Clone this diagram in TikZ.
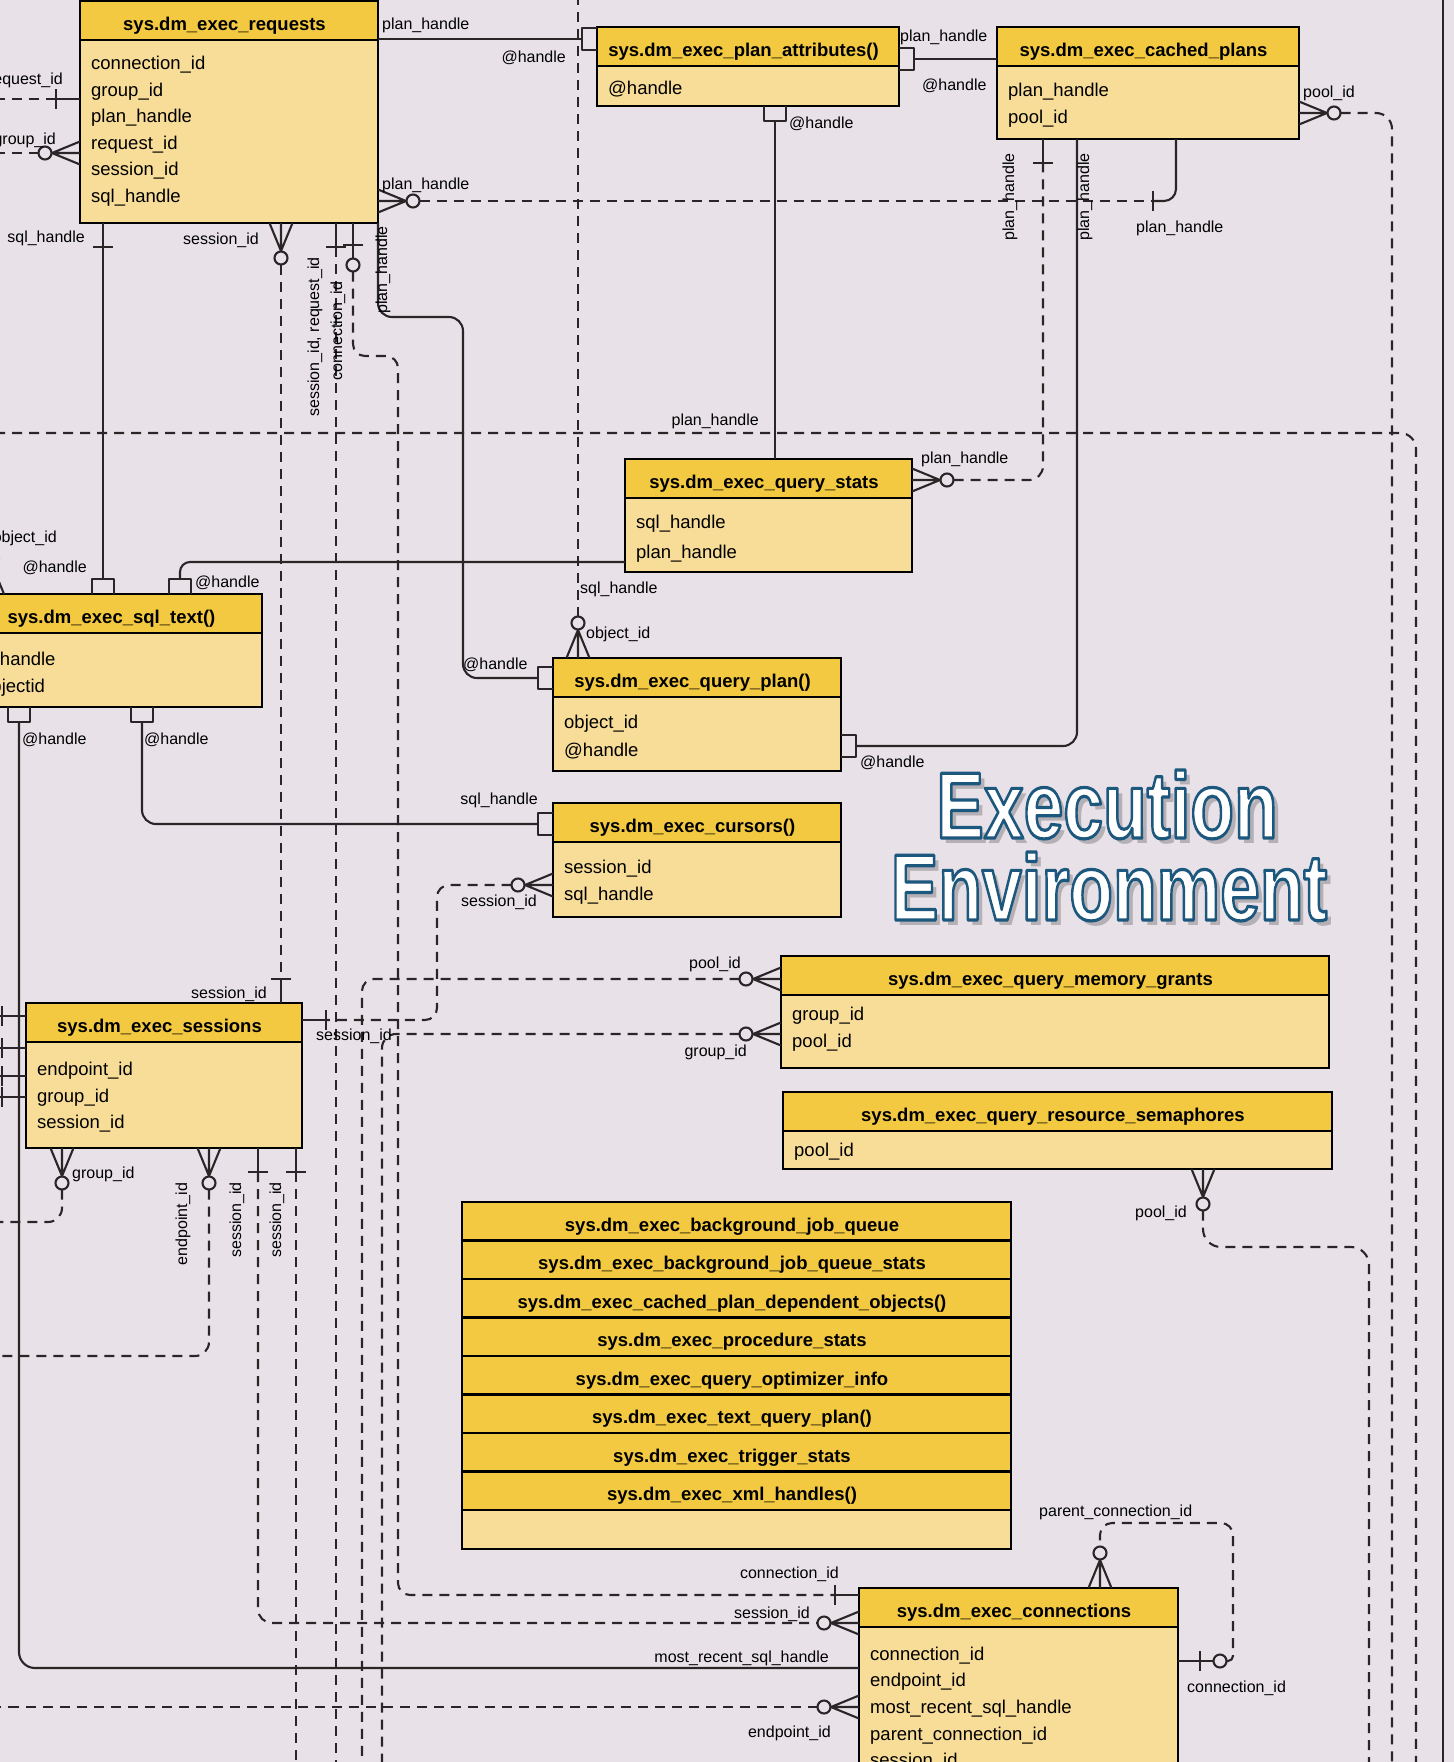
\documentclass[tikz,border=0pt]{standalone}
\usepackage{fontspec}
\setmainfont{Liberation Sans}
\usepackage{graphicx}

\definecolor{bgcol}{RGB}{232,226,232}
\definecolor{headcol}{RGB}{242,201,64}
\definecolor{bodycol}{RGB}{247,221,152}
\definecolor{inkcol}{RGB}{42,38,40}

\tikzset{
  box/.style={draw=black, line width=2.8pt, inner sep=0pt, outer sep=0pt, anchor=north west},
  ehead/.style={box, fill=headcol, minimum height=39pt, text height=29.5pt, text depth=9.5pt,
    font=\bfseries\fontsize{18.5}{20}\selectfont},
  ebody/.style={box, fill=bodycol},
  lcell/.style={box, fill=headcol, minimum width=549pt, minimum height=38.5pt, text height=29pt,
    text depth=9.5pt, font=\bfseries\fontsize{18.5}{20}\selectfont},
  erow/.style={anchor=base west, inner sep=0pt, xshift=11pt, font=\fontsize{18.5}{20}\selectfont},
  lbl/.style={inner sep=0pt, text height=11.5pt, text depth=3.5pt, font=\fontsize{16}{18}\selectfont},
  mk/.style={draw=inkcol, line width=2.1pt, line join=round},
  sconn/.style={mk, rounded corners=14pt},
  dconn/.style={mk, dash pattern=on 10pt off 7pt, rounded corners=14pt},
  bigtxt/.style={anchor=base, inner sep=0pt, font=\bfseries\fontsize{94}{94}\selectfont},
  pics/crow/.style={code={
    \draw[mk] (0,-11.5) -- (-28,0) -- (0,11.5) (0,0) -- (-28.5,0);
    \draw[mk, fill=bgcol] (-35,0) circle[radius=6.5pt];
    \coordinate (-e) at (-41.5,0);}},
  pics/one/.style={code={
    \draw[mk] (0,0) -- (-24,0) (-24,-10) -- (-24,10);
    \coordinate (-e) at (-24,0);}},
  pics/zeroone/.style={code={
    \draw[mk] (0,0) -- (-35.5,0) (-22,-10) -- (-22,10);
    \draw[mk, fill=bgcol] (-42,0) circle[radius=6.5pt];
    \coordinate (-e) at (-48.5,0);}},
  pics/square/.style={code={
    \draw[mk] (0,-11) -- (-15,-11) -- (-15,11) -- (0,11);
    \coordinate (-e) at (-15,0);}},
  pics/tick/.style={code={
    \draw[mk] (0,-10) -- (0,10);
    \coordinate (-e) at (0,0);}},
}

% name, x, top, width, body height, title, rows (text/baseline)
\newcommand{\entity}[7]{%
  \node[ehead, minimum width=#4pt] (#1h) at (#2,#3) {#6\hspace*{9pt}};
  \node[ebody, minimum width=#4pt, minimum height=#5pt] (#1) at (#1h.south west) {};
  \foreach \ftxt/\fb [count=\k] in {#7} {\node[erow] (#1r\k) at (#1.west |- 0,\fb) {\ftxt};}
}

% white letters with a blue outline
\newcommand{\outlined}[1]{\scalebox{0.76}[1]{\special{pdf:literal direct 0.11 0.34 0.49 RG 3.2 w 1 j 2 Tr}#1\special{pdf:literal direct 0 Tr}}}

\newcommand{\bigword}[4]{%
  \node[bigtxt, text=black, opacity=0.22] (#1s) at (#2+5,#3+5) {\scalebox{0.76}[1]{#4}};
  \node[bigtxt, text=white] (#1) at (#2,#3) {\outlined{#4}};
}

\begin{document}
\begin{tikzpicture}[x=1pt, y=-1pt]
\useasboundingbox (0,0) rectangle (1454,1762);
\fill[bgcol] (0,0) rectangle (1454,1762);
\clip (0,0) rectangle (1454,1762);

% tables
\entity{req}{80}{1}{298}{183}{sys.dm\_exec\_requests}{connection\_id/69, group\_id/96, plan\_handle/122, request\_id/149, session\_id/175, sql\_handle/202}
\entity{pa}{597}{27}{302}{40}{sys.dm\_exec\_plan\_attributes()}{@handle/94}
\entity{cp}{997}{27}{302}{73}{sys.dm\_exec\_cached\_plans}{plan\_handle/96, pool\_id/123}
\entity{qs}{625}{459}{287}{74}{sys.dm\_exec\_query\_stats}{sql\_handle/528, plan\_handle/558}
\entity{st}{-30}{594}{292}{74}{sys.dm\_exec\_sql\_text()}{@handle/665, objectid/692}
\entity{qp}{553}{658}{288}{74}{sys.dm\_exec\_query\_plan()}{object\_id/728, @handle/756}
\entity{cu}{553}{803}{288}{75}{sys.dm\_exec\_cursors()}{session\_id/873, sql\_handle/900}
\entity{se}{26}{1003}{276}{106}{sys.dm\_exec\_sessions}{endpoint\_id/1075, group\_id/1102, session\_id/1128}
\entity{mg}{781}{956}{548}{73}{sys.dm\_exec\_query\_memory\_grants}{group\_id/1020, pool\_id/1047}
\entity{rs}{783}{1092}{549}{38}{sys.dm\_exec\_query\_resource\_semaphores}{pool\_id/1156}
\entity{co}{859}{1588}{319}{220}{sys.dm\_exec\_connections}{connection\_id/1660, endpoint\_id/1686, most\_recent\_sql\_handle/1713, parent\_connection\_id/1740, session\_id/1766}

\foreach \ftxt [count=\k] in {sys.dm\_exec\_background\_job\_queue, sys.dm\_exec\_background\_job\_queue\_stats,
  sys.dm\_exec\_cached\_plan\_dependent\_objects(), sys.dm\_exec\_procedure\_stats, sys.dm\_exec\_query\_optimizer\_info,
  sys.dm\_exec\_text\_query\_plan(), sys.dm\_exec\_trigger\_stats, sys.dm\_exec\_xml\_handles()}
  {\node[lcell] (lst\k) at (462,{1202+38.5*(\k-1)}) {\ftxt\hspace*{9pt}};}
\node[lcell, fill=bodycol, minimum height=39pt] (lst9) at (462,1510) {};

% frame line on the right
\draw[mk, line width=2.4pt] (1443,-5) -- (1443,1770);

% requests
\pic (m1) at (req.west |- 0,99) {one};
\coordinate (f1) at (-5,99);
\draw[dconn] (m1-e) -- (f1);
\pic (m2) at (req.west |- 0,153) {crow};
\coordinate (f2) at (-5,153);
\draw[dconn] (m2-e) -- (f2);
\pic (m3) at (pa.west |- 0,39) {square};
\draw[sconn] (m3-e) -- (req.east |- 0,39);
\pic[rotate=180] (m4) at (pa.east |- 0,59) {square};
\draw[sconn] (m4-e) -- (cp.west |- 0,59);
\pic[rotate=90] (m5) at (pa.south -| 775,0) {square};
\draw[sconn] (m5-e) -- (qsh.north -| 775,0);
\pic[rotate=180] (m6) at (req.east |- 0,201) {crow};
\pic (m6b) at (1153,201) {tick};
\draw[sconn, rounded corners=12pt] (cp.south -| 1176,0) |- (m6b-e);
\draw[dconn] (m6-e) -- (m6b-e);
\pic[rotate=180] (m7) at (qs.east |- 0,480) {crow};
\pic[rotate=90] (m7b) at (cp.south -| 1043,0) {one};
\draw[dconn] (m7-e) -| (m7b-e);
\pic[rotate=180] (m8) at (qp.east |- 0,746) {square};
\draw[sconn] (m8-e) -| (cp.south -| 1077,0);
\pic[rotate=180] (m9) at (cp.east |- 0,113) {crow};
\coordinate (f9) at (1392,1775);
\draw[dconn, rounded corners=16pt] (m9-e) -| (f9);
\coordinate (f10a) at (-5,433);
\coordinate (f10b) at (1416,1775);
\draw[dconn, rounded corners=16pt] (f10a) -| (f10b);
\pic[rotate=-90] (m11) at (qph.north -| 578,0) {crow};
\coordinate (f11) at (578,-5);
\draw[dconn] (m11-e) -- (f11);
\pic[rotate=90] (m12) at (req.south -| 103,0) {one};
\pic[rotate=-90] (m12b) at (sth.north -| 103,0) {square};
\draw[sconn] (m12-e) -- (m12b-e);
\pic[rotate=90] (m13) at (req.south -| 281,0) {crow};
\pic[rotate=-90] (m13b) at (seh.north -| 281,0) {one};
\draw[dconn] (m13-e) -- (m13b-e);
\pic[rotate=90] (m14) at (req.south -| 336,0) {one};
\coordinate (f14) at (336,1775);
\draw[dconn] (m14-e) -- (f14);
\pic[rotate=90] (m15) at (req.south -| 353,0) {zeroone};
\pic (m15b) at (co.west |- 0,1595) {one};
\draw[dconn, rounded corners=12pt] (m15-e) |- (398,356) |- (m15b-e);
\pic (m16) at (qp.west |- 0,678) {square};
\draw[sconn] (req.south east) |- (463,317) |- (m16-e);

% sql text
\pic[rotate=-90] (m17) at (sth.north -| 180,0) {square};
\draw[sconn, rounded corners=10pt] (m17-e) |- (qs.west |- 0,562);
\pic[rotate=90] (m18) at (st.south -| 19,0) {square};
\draw[sconn, rounded corners=16pt] (m18-e) |- (co.west |- 0,1668);
\pic[rotate=90] (m19) at (st.south -| 142,0) {square};
\pic (m19b) at (cu.west |- 0,824) {square};
\draw[sconn] (m19-e) |- (m19b-e);
\pic[rotate=-90] (m31) at (sth.north -| -7.5,0) {crow};

% cursors, grants
\pic (m20) at (cu.west |- 0,885) {crow};
\pic[rotate=180] (m20b) at (se.east |- 0,1020) {one};
\draw[dconn, rounded corners=12pt] (m20-e) -| (437,1020) -- (m20b-e);
\pic (m21) at (mg.west |- 0,979) {crow};
\coordinate (f21) at (362,1775);
\draw[dconn, rounded corners=12pt] (m21-e) -| (f21);
\pic (m22) at (mg.west |- 0,1034) {crow};
\coordinate (f22) at (382,1775);
\draw[dconn] (m22-e) -| (f22);

% sessions
\foreach \yy [count=\k] in {1016,1048,1076,1097} {
  \pic (m23\k) at (se.west |- 0,\yy) {one};
  \coordinate (f23\k) at (-5,\yy);
  \draw[sconn] (m23\k-e) -- (f23\k);}
\pic[rotate=90] (m24) at (se.south -| 62,0) {crow};
\coordinate (f24) at (-5,1222);
\draw[dconn] (m24-e) |- (f24);
\pic[rotate=90] (m25) at (se.south -| 209,0) {crow};
\coordinate (f25) at (-5,1356);
\draw[dconn] (m25-e) |- (f25);
\pic[rotate=90] (m26) at (se.south -| 258,0) {one};
\pic (m26b) at (co.west |- 0,1623) {crow};
\draw[dconn] (m26-e) |- (m26b-e);
\pic[rotate=90] (m27) at (se.south -| 296,0) {one};
\coordinate (f27) at (296,1775);
\draw[dconn] (m27-e) -- (f27);

% connections
\pic (m28) at (co.west |- 0,1707) {crow};
\coordinate (f28) at (-5,1707);
\draw[dconn] (m28-e) -- (f28);
\pic[rotate=180] (m29) at (co.east |- 0,1661) {zeroone};
\pic[rotate=-90] (m29b) at (coh.north -| 1100,0) {crow};
\draw[dconn, rounded corners=5pt] (m29-e) -| (1233,1600) [rounded corners=12pt] |- (1160,1523) -| (m29b-e);
\pic[rotate=90] (m30) at (rs.south -| 1203,0) {crow};
\coordinate (f30) at (1369,1775);
\draw[dconn, rounded corners=18pt] (m30-e) |- (1369,1247) -- (f30);

% labels
\node[lbl, anchor=east] (l1) at (63,80) {request\_id};
\node[lbl, anchor=east] (l2) at (56,140) {group\_id};
\node[lbl, anchor=west] (l3) at (382,25) {plan\_handle};
\node[lbl, anchor=east] (l4) at (566,58) {@handle};
\node[lbl, anchor=west] (l5) at (900,37) {plan\_handle};
\node[lbl, anchor=west] (l6) at (922,86) {@handle};
\node[lbl, anchor=west] (l7) at (789,124) {@handle};
\node[lbl, anchor=east] (l8) at (759,421) {plan\_handle};
\node[lbl, anchor=west] (l9) at (382,185) {plan\_handle};
\node[lbl, anchor=west] (l10) at (1136,228) {plan\_handle};
\node[lbl, anchor=west] (l11) at (921,459) {plan\_handle};
\node[lbl, rotate=90] (l12) at (1010,197) {plan\_handle};
\node[lbl, rotate=90] (l13) at (1085,197) {plan\_handle};
\node[lbl, anchor=west] (l14) at (860,763) {@handle};
\node[lbl, anchor=west] (l15) at (1303,93) {pool\_id};
\node[lbl, anchor=west] (l16) at (580,589) {sql\_handle};
\node[lbl, anchor=west] (l17) at (586,634) {object\_id};
\node[lbl, anchor=east] (l18) at (85,238) {sql\_handle};
\node[lbl, anchor=east] (l19) at (87,568) {@handle};
\node[lbl, anchor=east] (l20) at (259,240) {session\_id};
\node[lbl, anchor=east] (l21) at (267,994) {session\_id};
\node[lbl, rotate=90] (l22) at (315,337) {session\_id, request\_id};
\node[lbl, rotate=90] (l23) at (338,331) {connection\_id};
\node[lbl, anchor=east] (l24) at (839,1574) {connection\_id};
\node[lbl, rotate=90] (l25) at (383,270) {plan\_handle};
\node[lbl, anchor=west] (l26) at (463,665) {@handle};
\node[lbl, anchor=west] (l27) at (195,583) {@handle};
\node[lbl, anchor=west] (l28) at (22,740) {@handle};
\node[lbl, anchor=east] (l29) at (829,1658) {most\_recent\_sql\_handle};
\node[lbl, anchor=west] (l30) at (144,740) {@handle};
\node[lbl, anchor=east] (l31) at (538,800) {sql\_handle};
\node[lbl, anchor=west] (l32) at (461,902) {session\_id};
\node[lbl, anchor=west] (l33) at (316,1036) {session\_id};
\node[lbl, anchor=east] (l34) at (741,964) {pool\_id};
\node[lbl, anchor=east] (l35) at (747,1052) {group\_id};
\node[lbl, anchor=west] (l36) at (72,1174) {group\_id};
\node[lbl, rotate=90] (l37) at (183,1224) {endpoint\_id};
\node[lbl, rotate=90] (l38) at (237,1220) {session\_id};
\node[lbl, anchor=east] (l39) at (810,1614) {session\_id};
\node[lbl, rotate=90] (l40) at (277,1220) {session\_id};
\node[lbl, anchor=east] (l41) at (831,1733) {endpoint\_id};
\node[lbl, anchor=west] (l42) at (1039,1512) {parent\_connection\_id};
\node[lbl, anchor=west] (l43) at (1187,1688) {connection\_id};
\node[lbl, anchor=east] (l44) at (1187,1213) {pool\_id};
\node[lbl, anchor=east] (l45) at (57,538) {object\_id};

% title
\bigword{t1}{1107}{838}{Execution}
\bigword{t2}{1109}{920}{Environment}
\end{tikzpicture}
\end{document}
